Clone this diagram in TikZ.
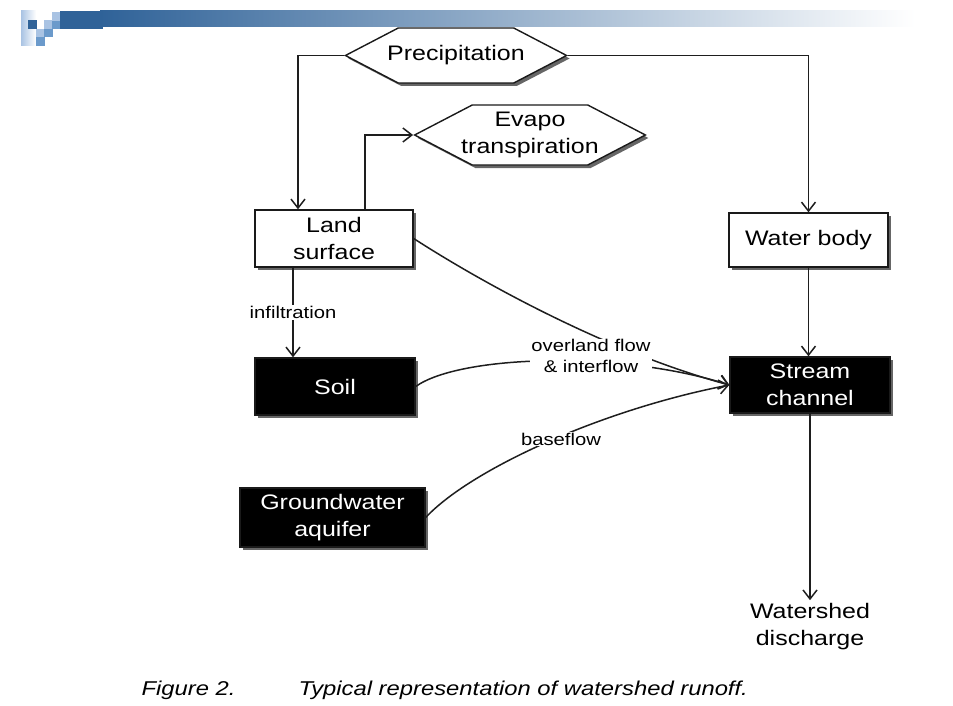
\documentclass[tikz,border=0pt]{standalone}
\usepackage{fontspec}
\setmainfont{Liberation Sans}[FakeStretch=1.19]
\usetikzlibrary{arrows.meta,shapes.symbols,shadows}

\begin{document}
\begin{tikzpicture}[x=1pt, y=-1pt,
    boxShadow/.style={drop shadow={shadow xshift=3pt, shadow yshift=-3pt, fill=black!60, opacity=1}},
    whiteBox/.style={draw=borderColour, fill=white, line width=1.4pt, text=black, align=center,
        inner sep=0pt, boxShadow, font=\mainSize},
    blackBox/.style={whiteBox, fill=black, text=white},
    hexBox/.style={signal, signal to=east and west, signal pointer angle=55, whiteBox, inner xsep=-11pt},
    flowArrow/.style={draw=lineColour, line width=1.5pt, -{Straight Barb[length=9pt,width=14pt]}},
    flowLabel/.style={fill=white, inner sep=1pt, align=center, font=\smallSize}]
    \definecolor{borderColour}{HTML}{1A1A1A}
    \definecolor{lineColour}{HTML}{1E1E1E}
    \definecolor{headerBlue}{HTML}{2F6298}
    \definecolor{logoLight}{HTML}{A9C3E3}
    \definecolor{logoMid}{HTML}{6B9ACB}

    \def\mainSize{\fontsize{21}{27}\selectfont}
    \def\smallSize{\fontsize{17}{20.5}\selectfont}
    \def\captionSize{\fontsize{20}{24}\selectfont}

    \useasboundingbox (0,0) rectangle (953,706);

    % Header bar and logo
    \shade[left color=headerBlue, right color=white] (100,11) rectangle (915,27);
    \fill[headerBlue] (60,11) rectangle (103,29);
    \shade[left color=logoLight, right color=white] (21,11) rectangle (36,46);
    \fill[headerBlue] (28,20) rectangle (37,29);
    \fill[logoLight] (36,29) rectangle (44,37);
    \fill[logoMid] (36,37) rectangle (45,46);
    \fill[logoLight] (44,20) rectangle (52,29);
    \fill[logoMid] (44,29) rectangle (53,37);
    \fill[logoLight] (52,12) rectangle (60,21);
    \fill[logoMid] (52,21) rectangle (60,29);

    % Boxes
    \node[hexBox, minimum height=55pt] (prec) at (456,55.5) {Precipitation};
    \node[hexBox, minimum height=60pt] (evap) at (530,135) {Evapo\\transpiration};
    \node[whiteBox, minimum width=158pt, minimum height=57pt] (land) at (334,238.5) {Land\\surface};
    \node[whiteBox, minimum width=159pt, minimum height=54pt] (water) at (808.5,240) {Water body};
    \node[blackBox, minimum width=160pt, minimum height=57pt] (soil) at (335,386.5) {Soil};
    \node[blackBox, minimum width=160pt, minimum height=56pt] (stream) at (810,385) {Stream\\channel};
    \node[blackBox, minimum width=185pt, minimum height=59pt] (ground) at (332.5,517.5) {Groundwater\\aquifer};
    \node[align=center, font=\mainSize] (discharge) at (810,627) {Watershed\\discharge};

    % Connectors
    \draw[flowArrow] (prec.west) -| ([xshift=-36pt]land.north);
    \draw[flowArrow] (prec.east) -| (water.north);
    \draw[flowArrow] ([xshift=31pt]land.north) |- (evap.west);
    \draw[flowArrow] ([xshift=-41pt]land.south) -- ([xshift=-41pt]land.south |- soil.north)
        node[midway, flowLabel] (infil) {infiltration};
    \draw[flowArrow] (water.south) -- (water.south |- stream.north);
    \draw[flowArrow] (stream.south) -- (discharge.north);
    \draw[flowArrow] (land.east) .. controls (470,275) and (600,350) .. (stream.west);
    \draw[flowArrow] (soil.east) .. controls (460,355) and (620,350) .. (stream.west);
    \draw[flowArrow] (ground.east) .. controls (470,470) and (600,410) .. (stream.west);

    % Flow labels
    \node[flowLabel] (overland) at (591,356) {overland flow\\\& interflow};
    \node[flowLabel] (base) at (561,439) {baseflow};

    % Caption
    \node[anchor=west, font=\captionSize\itshape] (figNum) at (138,690) {Figure 2.};
    \node[anchor=west, font=\captionSize\itshape] (figText) at (295,690) {Typical representation of watershed runoff.};

\end{tikzpicture}
\end{document}
